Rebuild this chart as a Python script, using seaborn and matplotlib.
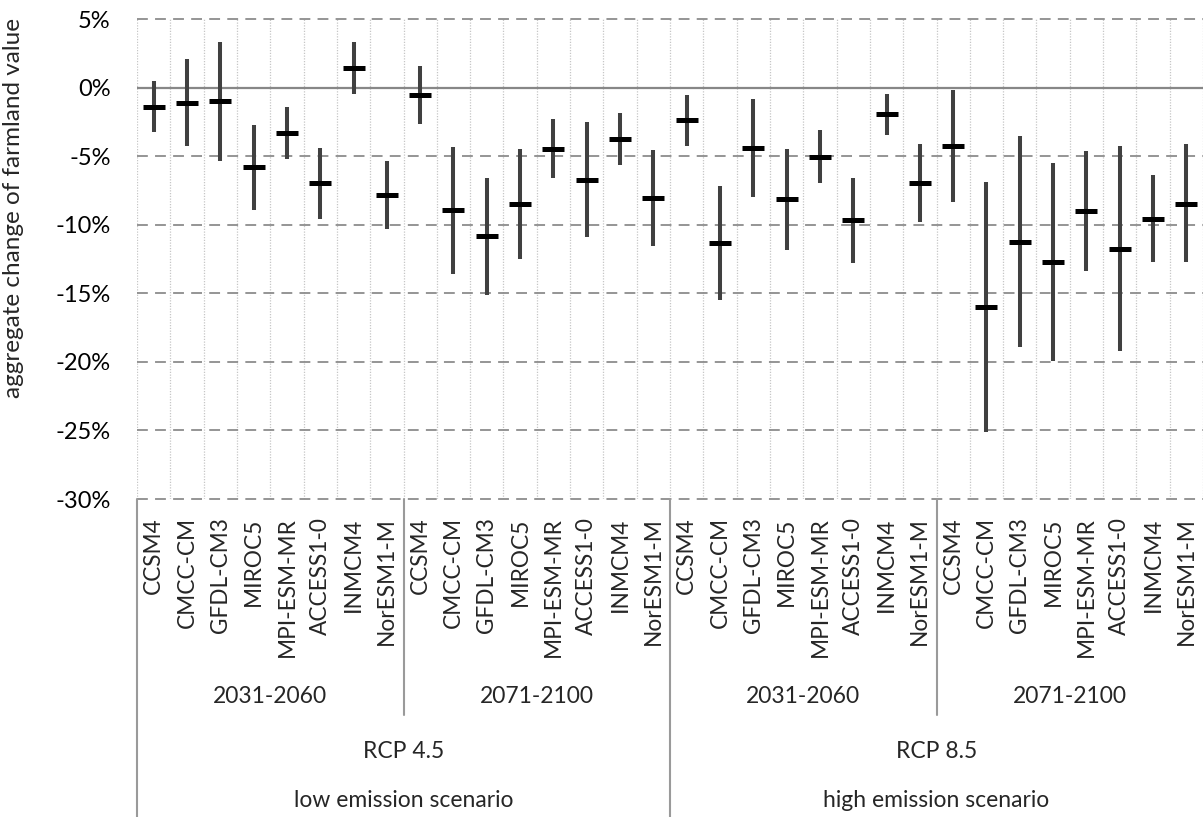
import numpy as np
import pandas as pd
import matplotlib
matplotlib.use("Agg")
import matplotlib.pyplot as plt
import matplotlib.transforms as mtrans
from matplotlib.ticker import FuncFormatter
import seaborn as sns

# category levels
models = ["CCSM4", "CMCC-CM", "GFDL-CM3", "MIROC5", "MPI-ESM-MR",
          "ACCESS1-0", "INMCM4", "NorESM1-M"]
periods = ["2031-2060", "2071-2100"]
rcps = ["RCP 4.5", "RCP 8.5"]
scenarios = ["low emission scenario", "high emission scenario"]

# central estimate (%) per model, in order RCP4.5/2031, RCP4.5/2071, RCP8.5/2031, RCP8.5/2071
mid = [-1.41, -1.12, -0.97, -5.78, -3.30, -6.95, 1.43, -7.82,
       -0.53, -8.92, -10.81, -8.48, -4.47, -6.73, -3.74, -8.04,
       -2.36, -11.32, -4.40, -8.11, -5.05, -9.65, -1.92, -6.95,
       -4.25, -15.98, -11.25, -12.70, -8.99, -11.76, -9.57, -8.48]
low = [-3.23, -4.23, -5.32, -8.94, -5.22, -9.57, -0.46, -10.33,
       -2.65, -13.63, -15.11, -12.49, -6.63, -10.93, -5.66, -11.56,
       -4.28, -15.50, -8.00, -11.86, -6.97, -12.80, -3.45, -9.81,
       -8.33, -25.10, -18.90, -19.95, -13.36, -19.24, -12.70, -12.75]
high = [0.49, 2.09, 3.30, -2.70, -1.43, -4.40, 3.33, -5.37,
        1.55, -4.30, -6.58, -4.50, -2.26, -2.53, -1.82, -4.52,
        -0.56, -7.17, -0.85, -4.47, -3.09, -6.58, -0.44, -4.15,
        -0.15, -6.92, -3.55, -5.49, -4.64, -4.25, -6.41, -4.13]

yticks = [5, 0, -5, -10, -15, -20, -25, -30]

df = pd.DataFrame({
    "pos": np.arange(len(mid)),
    "model": models * 4,
    "mid": mid, "low": low, "high": high,
})

sns.set_style("white")
plt.rcParams["font.family"] = ["Lato", "DejaVu Sans"]

W, H = 1203, 817
fig = plt.figure(figsize=(W / 100, H / 100), dpi=100)
ax = fig.add_axes([137 / W, 1 - 499 / H, 1066 / W, 480 / H])

# grid: dashed horizontals, dotted verticals between categories
for y in yticks:
    if y == 0:
        ax.axhline(0, color="#878787", lw=1.6, zorder=1)
    else:
        ax.axhline(y, color="#8c8c8c", lw=1.3, ls=(0, (6, 4)), zorder=1, clip_on=False)
for b in np.arange(-0.5, len(mid), 1.0):
    ax.axvline(b, color="#c6c6c6", lw=0.9, ls=(0, (1, 1.2)), zorder=0)

# ranges and central marks
ax.vlines(df["pos"], df["low"], df["high"], color="#404040", lw=2.9, zorder=2)
sns.scatterplot(data=df, x="pos", y="mid", marker="_", s=250, color="black",
                linewidth=3.6, zorder=3, ax=ax, legend=False)

ax.set_xlim(-0.5, len(mid) - 0.5)
ax.set_ylim(-30, 5)
ax.tick_params(axis="y", length=0, pad=19, labelsize=17, labelcolor="black")
ax.set_yticks(yticks)
ax.yaxis.set_major_formatter(FuncFormatter(lambda v, p: f"{v:.0f}%"))
ax.set_xticks([])
for s in ax.spines.values():
    s.set_visible(False)

ax.set_ylabel("aggregate change of farmland value", fontsize=17.5)
ax.yaxis.set_label_coords(-0.106, 0.607)
ax.set_xlabel("")

# multi-level category axis below the plot
tr = mtrans.blended_transform_factory(ax.transData, ax.transAxes)
for p, m in zip(df["pos"], df["model"]):
    ax.text(p, -0.038, m, transform=tr, rotation=90, ha="center", va="top",
            fontsize=16.3)

lc = "#9a9a9a"
ax.plot([-0.5, -0.5], [0, -0.6625], color=lc, lw=1.5, transform=tr, clip_on=False)
for g in [7.5, 23.5]:
    ax.plot([g, g], [0, -0.45], color=lc, lw=1.5, transform=tr, clip_on=False)
ax.plot([15.5, 15.5], [0, -0.6625], color=lc, lw=1.5, transform=tr, clip_on=False)

for i in range(4):
    ax.text(i * 8 + 3.5, -0.412, periods[i % 2], transform=tr, ha="center",
            va="center", fontsize=16.5)
for i in range(2):
    ax.text(i * 16 + 7.5, -0.525, rcps[i], transform=tr, ha="center",
            va="center", fontsize=16.5)
    ax.text(i * 16 + 7.5, -0.628, scenarios[i], transform=tr, ha="center",
            va="center", fontsize=16.5)

fig.savefig("out.png", dpi=100)
